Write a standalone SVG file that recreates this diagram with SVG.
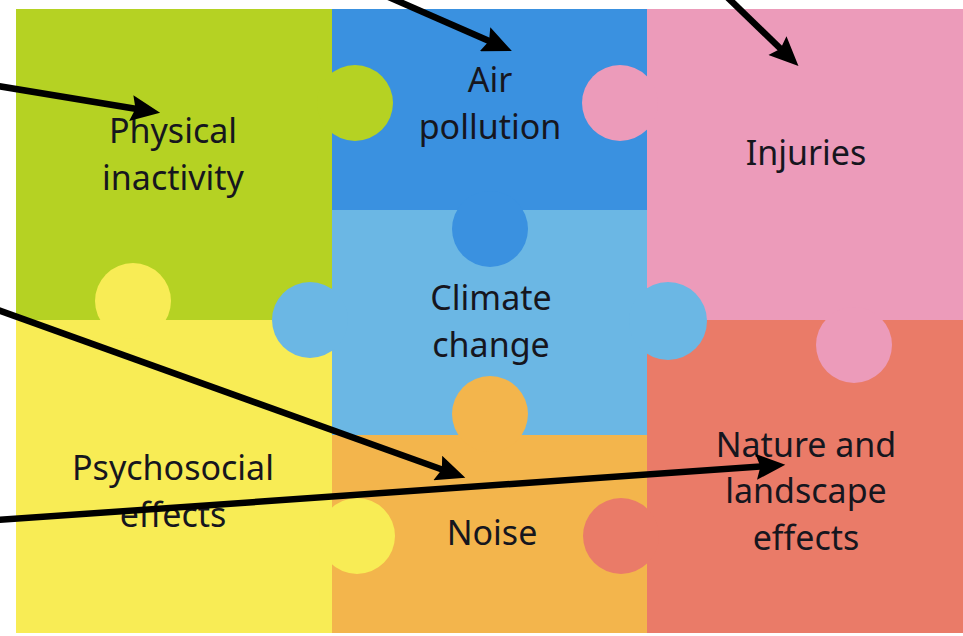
<svg xmlns="http://www.w3.org/2000/svg" width="963" height="636" viewBox="0 0 963 636">
<style>
.lbl{font-family:"Noto Sans","Open Sans",sans-serif;font-size:34px;fill:#16161e;text-anchor:middle}
.conn{stroke:#000;stroke-width:6.5;fill:none}
.green{fill:#b5d223}.blue{fill:#3a91e0}.pink{fill:#ec9bba}.lblue{fill:#6bb7e4}.yellow{fill:#f8ec55}.orange{fill:#f3b54c}.coral{fill:#ea7b68}
</style>
<defs>
<marker id="ah" markerUnits="userSpaceOnUse" markerWidth="30" markerHeight="26" refX="11" refY="12" orient="auto" viewBox="0 0 27 24">
<path d="M0,0 L27,12 L0,24 L4,12 z" fill="#000"/>
</marker>
</defs>
<rect x="0" y="0" width="963" height="636" fill="#fff"/>
<g id="physical-inactivity">
<rect class="green" x="16" y="9" width="316" height="311"/>
<text class="lbl" x="173" y="143">Physical</text>
<text class="lbl" x="173" y="190">inactivity</text>
</g>
<g id="air-pollution">
<rect class="blue" x="332" y="9" width="315" height="201"/>
<text class="lbl" x="490" y="92">Air</text>
<text class="lbl" x="490" y="139">pollution</text>
</g>
<g id="injuries">
<rect class="pink" x="647" y="9" width="316" height="311"/>
<text class="lbl" x="806" y="165">Injuries</text>
</g>
<g id="climate-change">
<rect class="lblue" x="332" y="210" width="315" height="225"/>
<text class="lbl" x="491" y="310">Climate</text>
<text class="lbl" x="491" y="357">change</text>
</g>
<g id="psychosocial-effects">
<rect class="yellow" x="16" y="320" width="316" height="313"/>
<text class="lbl" x="173" y="480">Psychosocial</text>
<text class="lbl" x="173" y="527">effects</text>
</g>
<g id="noise">
<rect class="orange" x="332" y="435" width="315" height="198"/>
<text class="lbl" x="492" y="545">Noise</text>
</g>
<g id="nature-landscape">
<rect class="coral" x="647" y="320" width="316" height="313"/>
<text class="lbl" x="806" y="457">Nature and</text>
<text class="lbl" x="806" y="503">landscape</text>
<text class="lbl" x="806" y="550">effects</text>
</g>
<g id="tabs">
<circle class="green" cx="355" cy="103" r="38"/>
<circle class="pink" cx="620" cy="103" r="38"/>
<circle class="blue" cx="490" cy="229" r="38"/>
<circle class="lblue" cx="310" cy="320" r="38"/>
<circle class="lblue" cx="668" cy="321" r="39"/>
<circle class="orange" cx="490" cy="414" r="38"/>
<circle class="yellow" cx="133" cy="301" r="38"/>
<circle class="yellow" cx="357" cy="536" r="38"/>
<circle class="coral" cx="621" cy="536" r="38"/>
<circle class="pink" cx="854" cy="345" r="38"/>
</g>
<g id="connectors">
<line class="conn" x1="-2" y1="86" x2="143" y2="110" marker-end="url(#ah)"/>
<line class="conn" x1="384" y1="-5" x2="496" y2="44" marker-end="url(#ah)"/>
<line class="conn" x1="725" y1="-5" x2="786" y2="54" marker-end="url(#ah)"/>
<line class="conn" x1="-2" y1="310" x2="449" y2="472" marker-end="url(#ah)"/>
<line class="conn" x1="-2" y1="520" x2="768" y2="466" marker-end="url(#ah)"/>
</g>
</svg>
